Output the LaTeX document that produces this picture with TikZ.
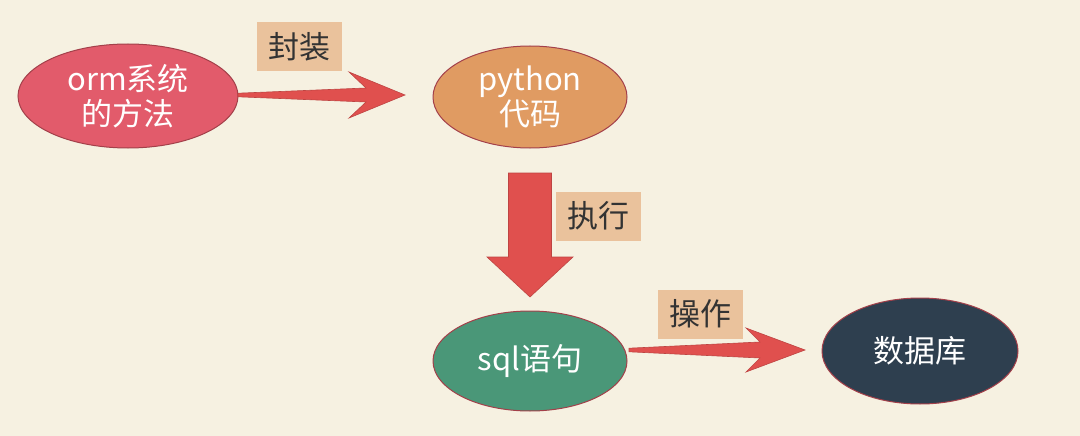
\documentclass[tikz,border=0pt]{standalone}
\usepackage{fontspec}
\setmainfont{Noto Sans CJK SC}
\usetikzlibrary{shapes.geometric,calc}
\definecolor{bg}{HTML}{F6F1E1}
\definecolor{ormfill}{HTML}{E25B6B}
\definecolor{pyfill}{HTML}{E09B62}
\definecolor{sqlfill}{HTML}{4A9778}
\definecolor{dbfill}{HTML}{2E3F4F}
\definecolor{edgecol}{HTML}{A3404A}
\definecolor{arrowred}{HTML}{E0504E}
\definecolor{tagfill}{HTML}{EAC29C}
\definecolor{tagtext}{HTML}{333333}
\tikzset{
  blob/.style={ellipse, draw=edgecol, line width=1pt, text=white, align=center,
    inner sep=0pt, font=\fontsize{31}{35}\selectfont},
  tag/.style={fill=tagfill, text=tagtext, minimum width=85pt, minimum height=49pt,
    inner sep=0pt, font=\fontsize{31}{32}\selectfont},
  blockarrow/.style={fill=arrowred, draw=arrowred!85!black, line width=0.6pt, line join=miter}
}
\begin{document}
\begin{tikzpicture}[x=1pt,y=-1pt]
\fill[bg] (0,0) rectangle (1080,436);
\useasboundingbox (0,0) rectangle (1080,436);

\node[blob, fill=ormfill, minimum width=220pt, minimum height=104pt] (orm) at (128,96) {orm系统\\的方法};
\node[blob, fill=pyfill, minimum width=194pt, minimum height=102pt] (py) at (530,97) {python\\代码};
\node[blob, fill=sqlfill, minimum width=194pt, minimum height=100pt] (sql) at (530,361) {sql语句};
\node[blob, fill=dbfill, minimum width=196pt, minimum height=106pt] (db) at (920,351) {数据库};

\node[tag] (t1) at (299,47) {封装};
\node[tag] (t2) at (598,216) {执行};
\node[tag] (t3) at (700,314) {操作};

% arrow orm -> python
\coordinate (a1) at (238,95);
\draw[blockarrow] ($(a1)+(0,-1.8)$) -- ($(a1)+(128,-7)$) -- ($(a1)+(111,-23)$) -- ($(a1)+(167,0)$)
  -- ($(a1)+(111,23)$) -- ($(a1)+(128,7)$) -- ($(a1)+(0,1.8)$) -- cycle;

% arrow python -> sql
\coordinate (a2) at (530,173);
\draw[blockarrow] ($(a2)+(-21.5,0)$) -- ($(a2)+(21.5,0)$) -- ($(a2)+(21.5,84)$) -- ($(a2)+(43,84)$)
  -- ($(a2)+(0,124)$) -- ($(a2)+(-43,84)$) -- ($(a2)+(-21.5,84)$) -- cycle;

% arrow sql -> db
\coordinate (a3) at (629,350);
\draw[blockarrow] ($(a3)+(0,-1.8)$) -- ($(a3)+(131,-8)$) -- ($(a3)+(117,-22)$) -- ($(a3)+(176,0)$)
  -- ($(a3)+(117,22)$) -- ($(a3)+(131,8)$) -- ($(a3)+(0,1.8)$) -- cycle;
\end{tikzpicture}
\end{document}
